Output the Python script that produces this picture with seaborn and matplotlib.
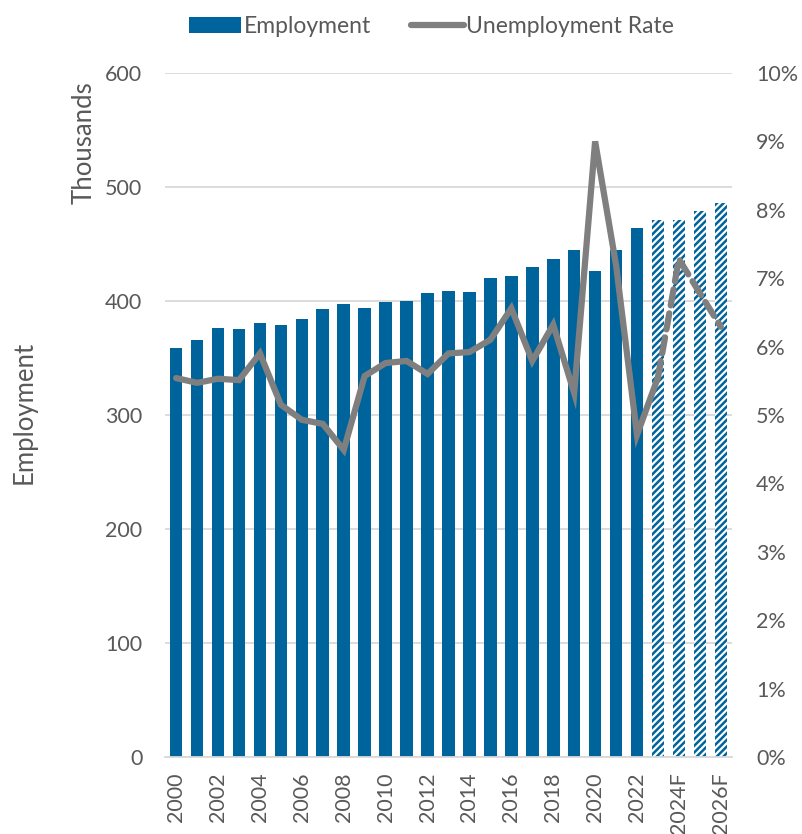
import numpy as np
import pandas as pd
import matplotlib
matplotlib.use("Agg")
import matplotlib.pyplot as plt
from matplotlib.patches import Patch
from matplotlib.lines import Line2D
import seaborn as sns

# Data
years = [str(y) for y in range(2000, 2023)] + ["2023F", "2024F", "2025F", "2026F"]
employment = [359, 366, 376, 375, 381, 379, 384, 393, 397, 394, 399, 400,
              407, 409, 408, 420, 422, 430, 437, 445, 426, 445, 464,
              471, 471, 479, 486]
unemp_rate = [5.54, 5.47, 5.53, 5.51, 5.90, 5.15, 4.93, 4.87, 4.49, 5.57,
              5.76, 5.79, 5.60, 5.90, 5.92, 6.10, 6.56, 5.79, 6.32, 5.32,
              9.00, 7.19, 4.71, 5.55, 7.28, 6.78, 6.29]
n_actual = 23  # 2000-2022 actual, rest forecast

blue = "#00649C"
grey = "#7F7F7F"
text_c = "#595959"

sns.set_theme(style="white")
plt.rcParams["font.family"] = ["Lato", "DejaVu Sans"]
plt.rcParams["hatch.linewidth"] = 1.8
plt.rcParams["hatch.color"] = blue

df = pd.DataFrame({"year": years, "emp": employment, "rate": unemp_rate})

fig = plt.figure(figsize=(8.03, 8.34), dpi=100)
ax = fig.add_axes([0.205, 0.0923, 0.707, 0.8202])

sns.barplot(data=df, x="year", y="emp", color=blue, width=0.6,
            saturation=1, ax=ax, zorder=2)
for i, p in enumerate(ax.patches):
    p.set_linewidth(0)
    if i >= n_actual:
        p.set_facecolor("white")
        p.set_edgecolor(blue)
        p.set_hatch("/////")

ax.set_ylim(0, 600)
ax.set_xlim(-0.55, len(years) - 0.45)
ax.set_yticks(range(0, 601, 100))
ax.grid(axis="y", color="#D9D9D9", linewidth=1.3, zorder=0)
ax.set_axisbelow(True)
for s in ["top", "right", "left"]:
    ax.spines[s].set_visible(False)
ax.spines["bottom"].set_color("#D9D9D9")
ax.spines["bottom"].set_linewidth(1.3)

ax.set_xticks(range(0, len(years), 2))
ax.set_xticklabels(years[::2], rotation=90)
ax.set_xticks(np.arange(-0.5, len(years), 1), minor=True)
ax.tick_params(axis="x", which="major", length=0, pad=11, labelsize=15.5, labelcolor=text_c)
ax.tick_params(axis="x", which="minor", length=4.5, color="#D9D9D9", width=1.3)
ax.tick_params(axis="y", length=0, labelsize=15.5, labelcolor=text_c, pad=16)
ax.set_xlabel("")
ax.set_ylabel("")

# Unemployment rate on secondary axis
ax2 = ax.twinx()
x = np.arange(len(years))
sns.lineplot(x=x[:n_actual + 1], y=unemp_rate[:n_actual + 1], color=grey,
             linewidth=4.5, ax=ax2, solid_capstyle="round", solid_joinstyle="miter")
sns.lineplot(x=x[n_actual:], y=unemp_rate[n_actual:], color=grey,
             linewidth=4.5, ax=ax2, linestyle=(0, (2.6, 1.3)), dash_capstyle="round")
ax2.set_ylim(0, 10)
ax2.set_yticks(range(0, 11))
ax2.set_yticklabels([f"{v}%" for v in range(0, 11)])
ax2.tick_params(axis="y", length=0, labelsize=15.5, labelcolor=text_c, pad=17)
for s in ["top", "right", "left", "bottom"]:
    ax2.spines[s].set_visible(False)
ax2.grid(False)

fig.text(0.105, 0.902, "Thousands", rotation=90, ha="center", va="top",
         fontsize=18.5, color=text_c)
fig.text(0.030, 0.506, "Employment", rotation=90, ha="center", va="center",
         fontsize=18.5, color=text_c)

handles = [Patch(facecolor=blue, edgecolor="none", label="Employment"),
           Line2D([0], [0], color=grey, linewidth=4.5, solid_capstyle="round",
                  label="Unemployment Rate")]
fig.legend(handles=handles, loc="upper center", bbox_to_anchor=(0.537, 1.005),
           ncol=2, frameon=False, fontsize=16.5, labelcolor=text_c,
           handlelength=2.3, handletextpad=0.1, columnspacing=1.75)

fig.savefig("out.png", dpi=100)
